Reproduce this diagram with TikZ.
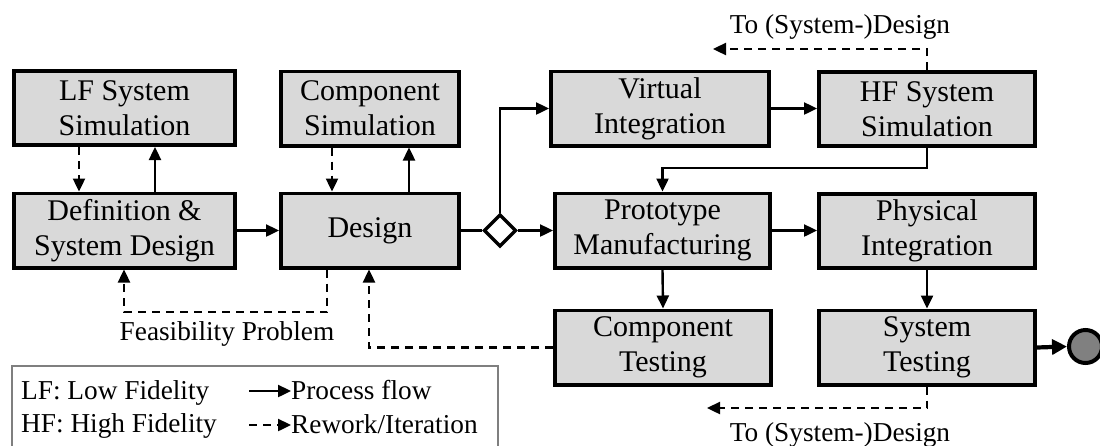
\documentclass[tikz,border=0pt]{standalone}
\usepackage{fontspec}
\setmainfont{Liberation Serif}
\usetikzlibrary{arrows.meta,shapes.geometric}
\definecolor{boxfill}{HTML}{D9D9D9}
\definecolor{endfill}{HTML}{808080}
\definecolor{legendline}{HTML}{7F7F7F}

\begin{document}
\begin{tikzpicture}[x=1pt,y=-1pt,
  stage/.style={draw=black, line width=3.6pt, fill=boxfill,
    minimum height=74.4pt, inner sep=0pt, align=center,
    font=\fontsize{30}{35}\selectfont},
  lbl/.style={inner sep=0pt, font=\fontsize{27.3}{32}\selectfont},
  flow/.style={line width=2.4pt, -{Triangle[length=13pt,width=12pt]}},
  rework/.style={flow, dash pattern=on 8pt off 6pt},
  plain/.style={line width=2.4pt},
  decision/.style={diamond, draw=black, fill=white, line width=3.4pt,
    minimum width=32.5pt, minimum height=32.5pt, inner sep=0pt, aspect=1},
  finish/.style={circle, draw=black, fill=endfill, line width=4pt,
    minimum size=33pt, inner sep=0pt},
  legendframe/.style={draw=legendline, line width=1.3pt}
]
\useasboundingbox (0,0) rectangle (1100,445);

% process stages
\node[stage, minimum width=221.4pt] (lf)     at (124.5,108)   {LF System\\Simulation};
\node[stage, minimum width=221.4pt] (def)    at (124.5,230.5) {Definition \&\\System Design};
\node[stage, minimum width=178.4pt] (csim)   at (370,108.5)   {Component\\Simulation};
\node[stage, minimum width=178.4pt] (design) at (370,230.5)   {Design};
\node[stage, minimum width=218.4pt] (virt)   at (660,108.5)   {Virtual\\Integration};
\node[stage, minimum width=216.4pt] (hf)     at (927,109)     {HF System\\Simulation};
\node[stage, minimum width=215.4pt] (proto)  at (662.5,230.5) {Prototype\\Manufacturing};
\node[stage, minimum width=216.4pt] (phys)   at (927,231)     {Physical\\Integration};
\node[stage, minimum width=216.4pt] (ctest)  at (663,347.5)   {Component\\Testing};
\node[stage, minimum width=216.4pt] (stest)  at (927,347.5)   {System\\Testing};

\node[decision] (dia) at (500,230.5) {};
\node[finish] (done) at (1085.5,346.5) {};

% helper points for bends and side offsets
\coordinate (xLFd) at (79,0);
\coordinate (xLFu) at (155,0);
\coordinate (xCSd) at (332,0);
\coordinate (xCSu) at (409,0);
\coordinate (feasR) at (327,312);
\coordinate (feasL) at (124,312);
\coordinate (retX) at (369,347);
\coordinate (hfBend) at (0,168);
\coordinate (topEnd) at (713,49);
\coordinate (botEnd) at (707,408);

% simulation loops
\draw[rework] (lf.south -| xLFd) -- (def.north -| xLFd);
\draw[flow]   (def.north -| xLFu) -- (lf.south -| xLFu);
\draw[rework] (csim.south -| xCSd) -- (design.north -| xCSd);
\draw[flow]   (design.north -| xCSu) -- (csim.south -| xCSu);

% main flow
\draw[flow]  (def.east) -- (design.west);
\draw[plain] (design.east) -- (dia.west);
\draw[flow]  (dia.east) -- (proto.west);
\draw[flow]  (dia.north) |- (virt.west);
\draw[flow]  (virt.east) -- (virt.east -| hf.west);
\draw[flow]  (hf.south) -- (hf.south |- hfBend) -| (proto.north);
\draw[flow]  (proto.east) -- (proto.east -| phys.west);
\draw[flow]  (proto.south) -- (ctest.north);
\draw[flow]  (phys.south) -- (stest.north);
\draw[line width=4.2pt, -{Triangle[length=15pt,width=15pt]}] (stest.east) -- (done.west);

% rework paths
\draw[rework] (design.south -| feasR) |- (feasL) -- (def.south -| feasL);
\draw[rework] (ctest.west) -| (design.south -| retX);
\draw[rework] (hf.north) |- (topEnd);
\draw[rework] (stest.south) |- (botEnd);

\node[lbl, anchor=base] (feasTxt) at (227,340) {Feasibility Problem};
\node[lbl, anchor=base] (topTxt)  at (840,33)  {To (System-)Design};
\node[lbl, anchor=base] (botTxt)  at (840,441) {To (System-)Design};

% legend
\draw[legendframe] (12,366) rectangle (498,470);
\node[lbl, anchor=base west] (lgLF) at (21,399) {LF: Low Fidelity};
\node[lbl, anchor=base west] (lgHF) at (21,432) {HF: High Fidelity};
\node[lbl, anchor=base west] (lgP)  at (291,399) {Process flow};
\node[lbl, anchor=base west] (lgR)  at (291,433) {Rework/Iteration};
\coordinate (lgPs) at (249,391);
\coordinate (lgRs) at (249,425);
\draw[flow]   (lgPs) -- (lgPs -| lgP.west);
\draw[rework] (lgRs) -- (lgRs -| lgR.west);
\end{tikzpicture}
\end{document}
